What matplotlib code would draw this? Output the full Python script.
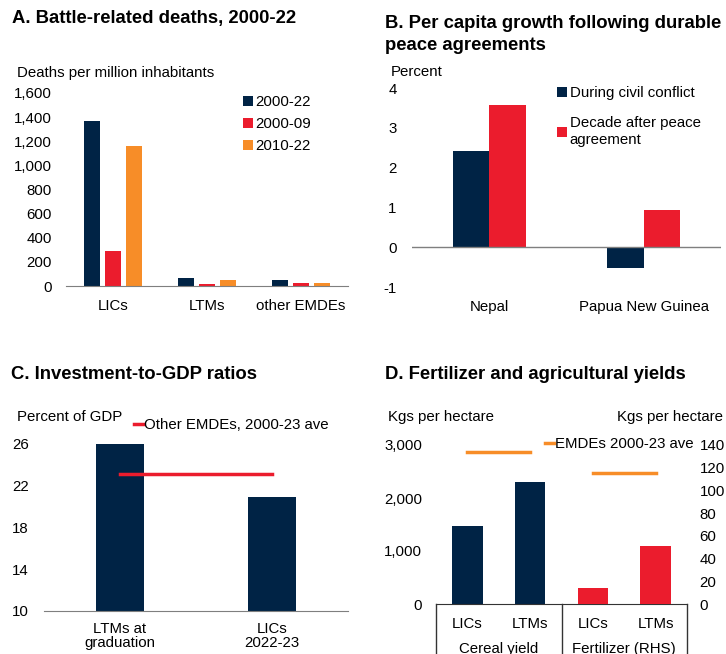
import matplotlib
matplotlib.use("Agg")
import matplotlib.pyplot as plt
import matplotlib.transforms as mtransforms
import numpy as np

plt.rcParams['font.family'] = ['Liberation Sans', 'DejaVu Sans']
plt.rcParams['font.size'] = 10.8
plt.rcParams['axes.unicode_minus'] = False

NAVY = '#002345'
RED = '#EB1C2D'
ORANGE = '#F78D28'
GRAY = '#7f7f7f'

# Panel A
a_groups = ['LICs', 'LTMs', 'other EMDEs']
a_series = ['2000-22', '2000-09', '2010-22']
a_2000_22 = [1365, 64, 50]
a_2000_09 = [293, 16, 27]
a_2010_22 = [1160, 47, 22]

# Panel B
b_countries = ['Nepal', 'Papua New Guinea']
b_conflict = [2.41, -0.53]
b_after = [3.58, 0.93]

# Panel C
c_cats = ['LTMs at\ngraduation', 'LICs\n2022-23']
c_values = [26.0, 20.9]
c_other_avg = 23.1

# Panel D
d_cats = ['LICs', 'LTMs', 'LICs', 'LTMs']
d_cereal = [1466, 2305]
d_fert = [13.9, 50.7]
d_cereal_avg = 2868
d_fert_avg = 115.3

W, H = 726, 654
fig = plt.figure(figsize=(W / 100, H / 100), dpi=100)


def box(l, t, r, b):
    return fig.add_axes([l / W, 1 - b / H, (r - l) / W, (b - t) / H])


def ftext(x, y, s, **kw):
    fig.text(x / W, 1 - y / H, s, **kw)


def clean(ax, spine_color=GRAY):
    for s in ['top', 'right', 'left']:
        ax.spines[s].set_visible(False)
    ax.spines['bottom'].set_color(spine_color)
    ax.tick_params(length=0)


def fig_legend(ax, x, y, **kw):
    return ax.legend(loc='upper left', bbox_to_anchor=(x / W, 1 - y / H),
                     bbox_transform=fig.transFigure, frameon=False,
                     borderpad=0, borderaxespad=0, **kw)


TITLE = dict(fontsize=13.3, fontweight='bold', va='center')

# ---- A
axA = box(66, 93, 348, 286)
clean(axA)
x = np.arange(len(a_groups))
w, off = 0.17, 0.223
for i, (vals, col) in enumerate(zip([a_2000_22, a_2000_09, a_2010_22], [NAVY, RED, ORANGE])):
    axA.bar(x + (i - 1) * off, vals, width=w, color=col, label=a_series[i])
axA.set_xlim(-0.5, 2.5)
axA.set_ylim(0, 1600)
axA.set_yticks(range(0, 1601, 200))
axA.set_yticklabels([f'{v:,}' for v in range(0, 1601, 200)])
axA.set_xticks(x)
axA.set_xticklabels(a_groups)
axA.tick_params(axis='y', pad=10)
axA.tick_params(axis='x', pad=9)
fig_legend(axA, 243, 95, handlelength=0.65, handleheight=0.65, handletextpad=0.2,
           labelspacing=0.55)
ftext(12, 18, 'A. Battle-related deaths, 2000-22', **TITLE)
ftext(17, 73, 'Deaths per million inhabitants', va='center')

# ---- B
axB = box(412, 88, 721, 287)
for s in ['top', 'right', 'left', 'bottom']:
    axB.spines[s].set_visible(False)
axB.tick_params(length=0)
xb = np.arange(len(b_countries))
bw = 0.235
axB.bar(xb - bw / 2, b_conflict, width=bw, color=NAVY, label='During civil conflict')
axB.bar(xb + bw / 2, b_after, width=bw, color=RED, label='Decade after peace\nagreement')
axB.axhline(0, color=GRAY, lw=1)
axB.set_xlim(-0.5, 1.5)
axB.set_ylim(-1, 4)
axB.set_yticks(range(-1, 5))
axB.set_xticks(xb)
axB.set_xticklabels(b_countries)
axB.tick_params(axis='y', pad=11)
axB.tick_params(axis='x', pad=9)
fig_legend(axB, 557, 86, handlelength=0.65, handleheight=0.65, handletextpad=0.2,
           labelspacing=1.1)
ftext(385, 24, 'B. Per capita growth following durable', **TITLE)
ftext(385, 45, 'peace agreements', **TITLE)
ftext(391, 72, 'Percent', va='center')

# ---- C
axC = box(44, 423, 348, 611)
clean(axC)
xc = np.arange(len(c_cats))
axC.bar(xc, c_values, width=0.31, color=NAVY)
axC.plot(xc, [c_other_avg] * len(xc), color=RED, lw=2.5, label='Other EMDEs, 2000-23 ave')
axC.set_xlim(-0.5, 1.5)
axC.set_ylim(10, 28)
axC.set_yticks([10, 14, 18, 22, 26])
axC.set_xticks(xc)
axC.set_xticklabels(c_cats, linespacing=1.0)
axC.tick_params(axis='y', pad=11)
axC.tick_params(axis='x', pad=8)
fig_legend(axC, 134, 418, handlelength=0.6, handletextpad=0.05)
ftext(11, 374, 'C. Investment-to-GDP ratios', **TITLE)
ftext(17, 417, 'Percent of GDP', va='center')

# ---- D
axD = box(436, 445, 687, 604)
clean(axD, spine_color='#333333')
axD2 = axD.twinx()
for s in ['top', 'right', 'left', 'bottom']:
    axD2.spines[s].set_visible(False)
axD2.tick_params(length=0)
xd = np.arange(len(d_cats))
axD.bar(xd[:2], d_cereal, width=0.49, color=NAVY)
axD2.bar(xd[2:], d_fert, width=0.49, color=RED)
axD.plot(xd[:2], [d_cereal_avg] * 2, color=ORANGE, lw=2.5, label='EMDEs 2000-23 ave')
axD2.plot(xd[2:], [d_fert_avg] * 2, color=ORANGE, lw=2.5)
axD.set_xlim(-0.5, 3.5)
axD.set_ylim(0, 3000)
axD2.set_ylim(0, 140)
axD.set_yticks([0, 1000, 2000, 3000])
axD.set_yticklabels(['0', '1,000', '2,000', '3,000'])
axD2.set_yticks(range(0, 141, 20))
axD.set_xticks(xd)
axD.set_xticklabels(d_cats)
axD.tick_params(axis='y', pad=10)
axD2.tick_params(axis='y', pad=9)
axD.tick_params(axis='x', pad=9)
trD = mtransforms.blended_transform_factory(axD.transData, axD.transAxes)
for xv in [-0.5, 1.5, 3.5]:
    axD.plot([xv, xv], [0, -0.5], color='#333333', lw=1, transform=trD, clip_on=False)
axD.text(0.5, -0.28, 'Cereal yield', transform=trD, ha='center', va='center')
axD.text(2.5, -0.28, 'Fertilizer (RHS)', transform=trD, ha='center', va='center')
fig_legend(axD, 545, 437, handlelength=0.6, handletextpad=0.05)
ftext(385, 374, 'D. Fertilizer and agricultural yields', **TITLE)
ftext(388, 417, 'Kgs per hectare', va='center')
ftext(723, 417, 'Kgs per hectare', va='center', ha='right')

fig.savefig('out.png', dpi=100)
